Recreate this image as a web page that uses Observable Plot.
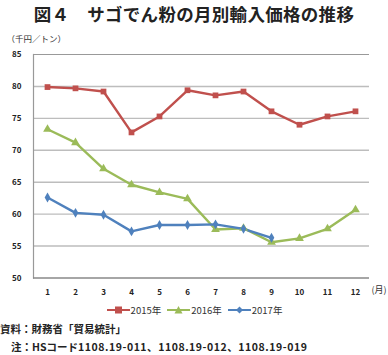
<!DOCTYPE html>
<html><head><meta charset="utf-8">
<script src="https://cdn.jsdelivr.net/npm/d3@7"></script>
<script src="https://cdn.jsdelivr.net/npm/@observablehq/plot@0.6"></script>
<style>
body{margin:0;background:#fff;font-family:"Noto Sans CJK JP","Noto Sans",sans-serif;width:388px;overflow:hidden;}
#title{height:28px;line-height:28px;text-align:center;font-size:17.5px;font-weight:700;color:#222;letter-spacing:0.3px;}
#legend{height:20px;display:flex;justify-content:center;align-items:center;font-size:9.5px;color:#333;gap:5px;margin-top:-3px;}
#legend span{display:flex;align-items:center;}
.note{font-size:10.5px;font-weight:700;color:#222;line-height:18px;white-space:nowrap;}
</style></head>
<body>
<div id="title">図４　サゴでん粉の月別輸入価格の推移</div>
<div id="chart"></div>
<div id="legend"></div>
<div class="note">資料：財務省「貿易統計」</div>
<div class="note" style="padding-left:11px;">注：HSコード<span style="letter-spacing:0.55px">1108.19-011、1108.19-012、1108.19-019</span></div>
<script>
const months = [1,2,3,4,5,6,7,8,9,10,11,12];
const seriesNames = ["2015年","2016年","2017年"];
const v2015 = [79.9,79.7,79.2,72.8,75.3,79.4,78.6,79.2,76.1,74.0,75.3,76.1];
const v2016 = [73.3,71.2,67.1,64.6,63.4,62.4,57.6,57.8,55.6,56.2,57.7,60.7];
const v2017 = [62.6,60.2,59.9,57.3,58.3,58.3,58.4,57.7,56.3];
const yTicks = [50,55,60,65,70,75,80,85];
const colors = ["#c0504d","#9bbb59","#4f81bd"];
const symbols = ["square","triangle","diamond"];
const sizes = [4.2,4.2,3.6];

const data = [];
[v2015,v2016,v2017].forEach((vals,i)=>vals.forEach((v,j)=>data.push({month:months[j],value:v,series:seriesNames[i]})));

const chart = Plot.plot({
  width:388, height:275,
  marginLeft:33, marginRight:19, marginTop:26, marginBottom:25.5,
  style:{fontFamily:"'Noto Sans CJK JP','Noto Sans',sans-serif",fontSize:"8px",color:"#222"},
  x:{type:"point",domain:months,padding:0.5},
  y:{domain:[50,85]},
  color:{domain:seriesNames,range:colors},
  symbol:{domain:seriesNames,range:symbols},
  marks:[
    Plot.gridY(yTicks.filter(d=>d>50&&d<85),{stroke:"#bdbdbd",strokeOpacity:1,strokeWidth:1.4}),
    Plot.ruleY([85],{stroke:"#999",strokeWidth:1}),
    Plot.frame({anchor:"left",stroke:"#999",strokeWidth:1.2}),
    Plot.axisY(yTicks,{tickSize:0,tickPadding:12,fontWeight:600,fill:"#222",label:null}),
    Plot.axisX(months,{tickSize:0,tickPadding:11,fontWeight:600,fill:"#222",label:null}),
    Plot.line(data,{x:"month",y:"value",z:"series",stroke:"series",strokeWidth:2.4}),
    Plot.dot(data,{x:"month",y:"value",fill:"series",symbol:"series",r:d=>sizes[seriesNames.indexOf(d.series)],stroke:null}),
    Plot.ruleY([50],{stroke:"#888",strokeWidth:1.6}),
    Plot.text(["（千円／トン）"],{frameAnchor:"top-left",dx:-27,dy:-19,textAnchor:"start",fontSize:8.5,fill:"#333"}),
    Plot.text(["(月)"],{frameAnchor:"bottom-right",dx:2,dy:15,textAnchor:"start",fontSize:9,fill:"#333"})
  ]
});
document.getElementById("chart").appendChild(chart);

const lg = document.getElementById("legend");
const shapes = [
  '<rect x="9" y="2.5" width="7" height="7"/>',
  '<path d="M12.5,2 L16.5,9.5 L8.5,9.5 Z"/>',
  '<path d="M12.5,2.5 L16,6 L12.5,9.5 L9,6 Z"/>'
];
seriesNames.forEach((n,i)=>{
  const s=document.createElement("span");
  s.innerHTML=`<svg width="25" height="12"><line x1="1" x2="24" y1="6" y2="6" stroke="${colors[i]}" stroke-width="2"/><g fill="${colors[i]}">${shapes[i]}</g></svg>${n}`;
  lg.appendChild(s);
});
</script>
</body></html>
